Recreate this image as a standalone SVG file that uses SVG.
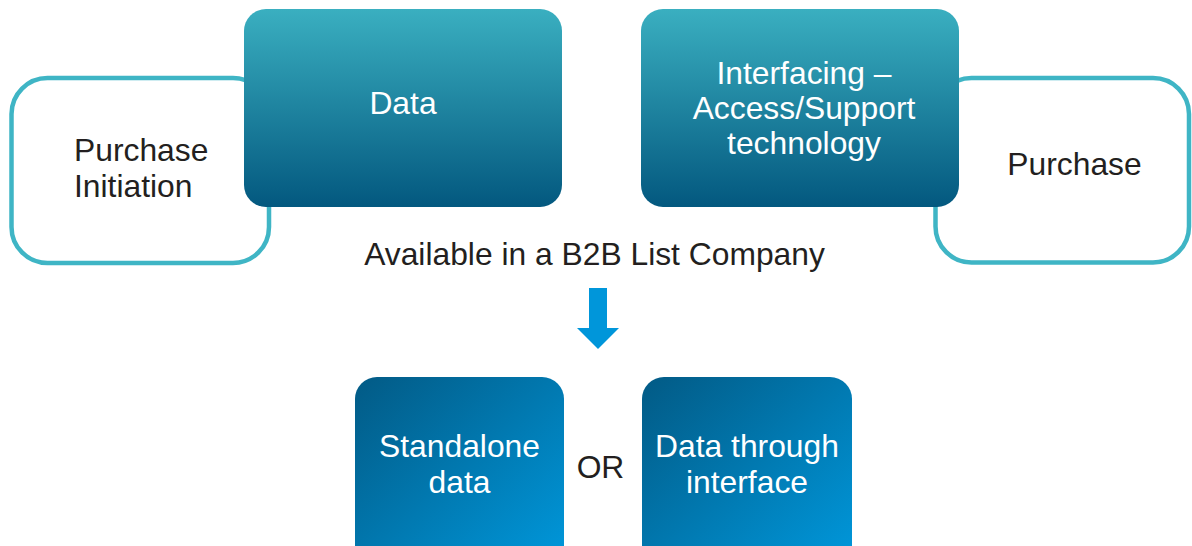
<svg xmlns="http://www.w3.org/2000/svg" width="1192" height="546" viewBox="0 0 1192 546">
<defs>
<linearGradient id="gTop" x1="0" y1="0" x2="0" y2="1">
<stop offset="0" stop-color="#3aafc0"/>
<stop offset="1" stop-color="#03587f"/>
</linearGradient>
<linearGradient id="gBot" x1="0" y1="0" x2="1" y2="1">
<stop offset="0" stop-color="#025a85"/>
<stop offset="1" stop-color="#0098dc"/>
</linearGradient>
<style>
.outline{fill:#ffffff;stroke:#3fb5c5;stroke-width:4.5}
.topbox{fill:url(#gTop)}
.botbox{fill:url(#gBot)}
text{font-family:"Liberation Sans",Arial,sans-serif;font-size:31.8px}
.dark{fill:#231f20}
.light{fill:#ffffff}
</style>
</defs>
<g id="purchase-initiation">
<rect class="outline" x="11.5" y="78" width="257.5" height="185" rx="36"/>
<text class="dark" x="74" y="161">Purchase</text>
<text class="dark" x="74" y="197">Initiation</text>
</g>
<g id="purchase">
<rect class="outline" x="935.5" y="78" width="253.5" height="184.5" rx="36"/>
<text class="dark" x="1074.5" y="175" text-anchor="middle">Purchase</text>
</g>
<g id="data">
<rect class="topbox" x="244" y="9" width="318" height="198" rx="22"/>
<text class="light" x="403" y="114" text-anchor="middle">Data</text>
</g>
<g id="interfacing">
<rect class="topbox" x="641" y="9" width="318" height="198" rx="22"/>
<text class="light" text-anchor="middle"><tspan x="804" y="84">Interfacing –</tspan><tspan x="804" y="119">Access/Support</tspan><tspan x="804" y="154">technology</tspan></text>
</g>
<g id="available">
<text class="dark" x="594.5" y="265" text-anchor="middle">Available in a B2B List Company</text>
</g>
<g id="connectors">
<polygon fill="#0096da" points="589,288 607,288 607,328 619,328 598,349 577,328 589,328"/>
</g>
<g id="standalone">
<rect class="botbox" x="355" y="377" width="209" height="190" rx="22"/>
<text class="light" text-anchor="middle"><tspan x="459.5" y="457">Standalone</tspan><tspan x="459.5" y="493">data</tspan></text>
</g>
<g id="or">
<text class="dark" x="600.5" y="478" text-anchor="middle">OR</text>
</g>
<g id="through-interface">
<rect class="botbox" x="642" y="377" width="210" height="190" rx="22"/>
<text class="light" text-anchor="middle"><tspan x="747" y="457">Data through</tspan><tspan x="747" y="493">interface</tspan></text>
</g>
</svg>
